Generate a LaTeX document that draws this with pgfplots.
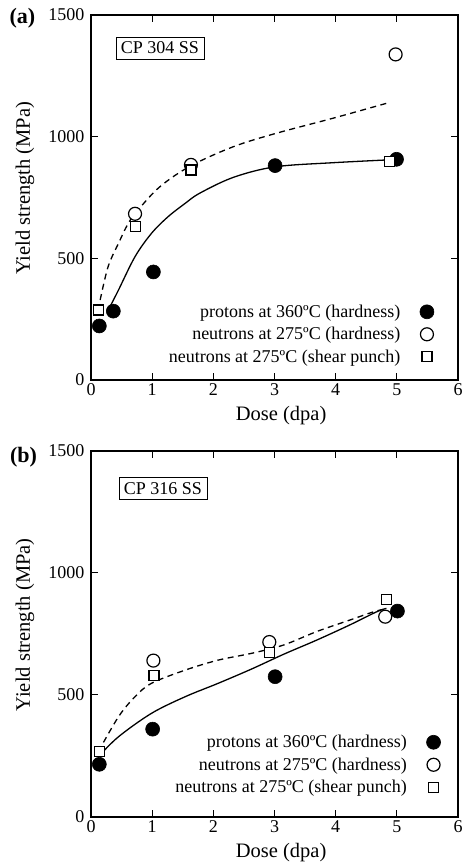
\documentclass[border=0pt]{standalone}
\usepackage{fontspec}
\setmainfont{Liberation Serif}
\usepackage{pgfplots}
\pgfplotsset{compat=1.18}
\newcommand{\fA}{\fontsize{18}{20}\selectfont}
\newcommand{\fL}{\fontsize{20.5}{23}\selectfont}
\pgfplotsset{
  panel/.style={
    scale only axis, width=367pt, clip=false,
    xmin=0, xmax=6, ymin=0, ymax=1500,
    xtick={0,1,2,3,4,5,6}, ytick={0,500,1000,1500},
    tick align=inside, major tick length=7pt, minor tick num=0,
    tick style={line width=1pt, black},
    axis line style={line width=1.3pt},
    ticklabel style={font=\fA},
    scaled ticks=false,
    /pgf/number format/assume math mode=true,
    /pgf/number format/1000 sep={},
    yticklabel style={xshift=-3pt},
    xlabel={Dose (dpa)}, ylabel={Yield strength (MPa)},
    label style={font=\fL},
    xlabel style={at={(axis description cs:0.518,-0.061)}, anchor=north},
    ylabel style={at={(axis description cs:-0.18,0.525)}, anchor=center},
    legend plot pos=right,
    legend cell align=right,
    legend style={draw=none, fill=none, inner sep=0pt, font=\fA,
      nodes={inner sep=2.25pt, font=\fA}, column sep=17.4pt, row sep=4pt},
  },
  prot/.style={only marks, mark=*, mark size=7pt, mark options={fill=black, draw=black, line width=0.6pt}},
  nh/.style={only marks, mark=*, mark size=6.5pt, mark options={fill=white, draw=black, line width=1.2pt}},
  sp/.style={only marks, mark=square*, mark size=5pt, mark options={fill=white, draw=black, line width=1.2pt}},
  fitsolid/.style={black, line width=1.3pt, smooth, tension=0.55, no marks, forget plot},
  fitdash/.style={black, line width=1.3pt, dash pattern=on 6pt off 4.5pt, smooth, tension=0.55, no marks, forget plot},
}
\begin{document}
\begin{tikzpicture}
\useasboundingbox (0,0) rectangle (464pt,867pt);
% ---------------- panel (a)
\begin{axis}[panel, height=365pt, at={(91pt,487pt)}, anchor=south west,
  legend style={at={(rel axis cs:0.935,0.0377)}, anchor=south east}]
\addplot[fitsolid] coordinates {(0.31,301) (0.45,370) (0.72,507) (0.99,603) (1.26,671) (1.54,726) (1.78,768) (2.33,833) (3.01,876) (3.96,893) (4.98,906)};
\addplot[fitdash] coordinates {(0.15,329) (0.28,466) (0.45,562) (0.61,644) (0.77,699) (1.13,795) (1.63,880) (2.33,959) (3.03,1014) (3.96,1076) (4.83,1137)};
\addplot[prot] coordinates {(0.136,222) (0.365,283) (1.02,444) (3.01,881) (4.995,907)};
\addlegendentry{\fA protons at 360ºC (hardness)}
\addplot[nh] coordinates {(0.72,683) (1.634,884) (4.98,1338)};
\addlegendentry{\fA neutrons at 275ºC (hardness)}
\addplot[sp] coordinates {(0.126,288) (0.724,630) (1.634,863) (4.875,897)};
\addlegendentry{\fA neutrons at 275ºC (shear punch)}
\node[draw, line width=0.8pt, font=\fA, inner sep=5pt] at (rel axis cs:0.188,0.9096) {CP 304 SS};
\node[font=\fontsize{22}{24}\selectfont\bfseries] at (rel axis cs:-0.187,0.992) {(a)};
\end{axis}
% ---------------- panel (b)
\begin{axis}[panel, height=366pt, at={(91pt,50pt)}, anchor=south west,
  legend style={at={(rel axis cs:0.953,0.0555)}, anchor=south east}]
\addplot[fitsolid] coordinates {(0.12,247) (0.45,329) (0.99,425) (1.54,493) (2.08,548) (2.63,607) (3.15,667) (3.69,725) (4.23,787) (4.67,841) (4.83,855)};
\addplot[fitdash] coordinates {(0.12,268) (0.45,411) (0.72,493) (0.99,548) (1.54,602) (2.08,643) (2.63,671) (3.15,705) (3.69,760) (4.23,807) (4.62,841) (4.78,851)};
\addplot[prot] coordinates {(0.136,216) (1.008,360) (3.01,575) (5.01,844)};
\addlegendentry{\fA protons at 360ºC (hardness)}
\addplot[nh] coordinates {(1.02,641) (2.915,717) (4.81,821)};
\addlegendentry{\fA neutrons at 275ºC (hardness)}
\addplot[sp] coordinates {(0.136,268) (1.03,579) (2.915,673) (4.83,893)};
\addlegendentry{\fA neutrons at 275ºC (shear punch)}
\node[draw, line width=0.8pt, font=\fA, inner sep=5pt] at (rel axis cs:0.196,0.897) {CP 316 SS};
\node[font=\fontsize{22}{24}\selectfont\bfseries] at (rel axis cs:-0.184,0.982) {(b)};
\end{axis}
\end{tikzpicture}
\end{document}
